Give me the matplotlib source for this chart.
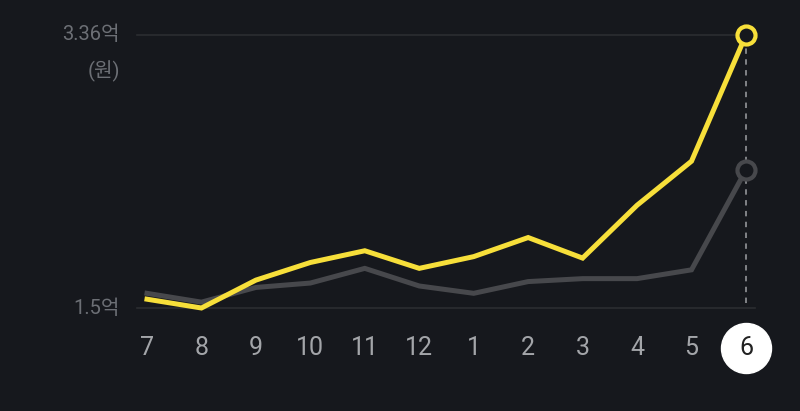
import matplotlib.pyplot as plt
import numpy as np

plt.rcParams['font.family'] = ['Roboto', 'Noto Sans CJK KR', 'DejaVu Sans']

# data (억 원)
months = ["7", "8", "9", "10", "11", "12", "1", "2", "3", "4", "5", "6"]
yellow_vals = [1.56, 1.50, 1.69, 1.81, 1.89, 1.77, 1.85, 1.98, 1.84, 2.20, 2.50, 3.36]
gray_vals = [1.60, 1.54, 1.64, 1.67, 1.77, 1.65, 1.60, 1.68, 1.70, 1.70, 1.76, 2.44]
y_ticks = [1.5, 3.36]
y_labels = ["1.5억", "3.36억"]

BG = "#16181d"
YELLOW = "#f7df3a"
GRAY = "#47484c"
GRID = "#2b2d31"

fig = plt.figure(figsize=(8, 4.11), dpi=100, facecolor=BG)
ax = fig.add_axes([0, 0, 1, 1])
ax.set_facecolor(BG)
ax.axis("off")

# map pixel layout: x index 0 -> px 147, step 54.45; y 1.5 -> px 308, 1억 = 146.8 px
step = 54.45
pyu = 146.8
ax.set_xlim(-147 / step, (800 - 147) / step)
ax.set_ylim(1.5 - (411 - 308) / pyu, 1.5 + 308 / pyu)

x = np.arange(len(months))
last = x[-1]

# grid lines
ax.plot([-10 / step, last + 9 / step], [y_ticks[0]] * 2, color=GRID, lw=1.2)
ax.plot([-10 / step, last - 6 / step], [y_ticks[1]] * 2, color=GRID, lw=1.2)

# dashed vertical
ax.plot([last, last], [1.5 + 5 / pyu, 3.36 - 8 / pyu], color="#8a8c90", lw=1.3,
        ls=(0, (3, 3)))

ax.plot(x, gray_vals, color=GRAY, lw=3.6, solid_joinstyle="miter", zorder=3)
ax.plot(x, yellow_vals, color=YELLOW, lw=3.6, solid_joinstyle="miter", zorder=4)

ax.plot(last, gray_vals[-1], "o", ms=13, mfc=BG, mec=GRAY, mew=3, zorder=5)
ax.plot(last, yellow_vals[-1], "o", ms=13, mfc=BG, mec=YELLOW, mew=3, zorder=6)

# y labels
for v, lab in zip(y_ticks, y_labels):
    ax.annotate(lab, (-147 / step, v), xytext=(120, 0), textcoords="offset pixels",
                ha="right", va="center", color="#6c6f75", fontsize=14.5)
ax.annotate("(원)", (-147 / step, y_ticks[1]), xytext=(120, -36),
            textcoords="offset pixels", ha="right", va="center",
            color="#6c6f75", fontsize=14.5)

# x labels
ty = 1.5 - 40 / pyu
for i, m in enumerate(months):
    if i == len(months) - 1:
        ax.plot(i, ty, "o", ms=36, color="white", zorder=5)
        ax.text(i, ty, m, ha="center", va="center", color="#222222",
                fontsize=18, zorder=6)
    else:
        ax.text(i, ty, m, ha="center", va="center", color="#a3a5a9", fontsize=18)

fig.savefig("out.png", dpi=100, facecolor=BG)
